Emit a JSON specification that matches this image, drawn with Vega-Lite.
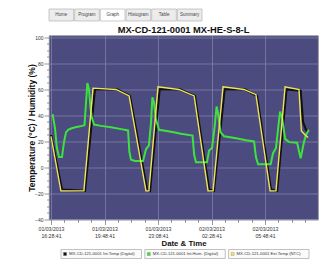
{
  "$schema": "https://vega.github.io/schema/vega-lite/v6.json",
  "background": "#ffffff",
  "padding": {"left": 26, "top": 8, "right": 15, "bottom": 3},
  "config": {
    "font": "Liberation Sans",
    "view": {"stroke": null},
    "concat": {"spacing": 0}
  },
  "datasets": {
    "tabs": [
      {"tab": "Home"}, {"tab": "Program"}, {"tab": "Graph"}, {"tab": "Histogram"}, {"tab": "Table"}, {"tab": "Summary"}
    ],
    "legend": [
      {"item": "MX-CD-121-0001 Int.Temp (Digital)"},
      {"item": "MX-CD-121-0001 Int.Hum. (Digital)"},
      {"item": "MX-CD-121-0001 Ext.Temp (NTC)"}
    ],
    "series": [
      {"series": "Int.Temp", "t": "2013-03-01T16:28:41", "v": 25},
      {"series": "Int.Temp", "t": "2013-03-01T17:09:41", "v": -17},
      {"series": "Int.Temp", "t": "2013-03-01T18:35:41", "v": -18},
      {"series": "Int.Temp", "t": "2013-03-01T19:12:41", "v": 60},
      {"series": "Int.Temp", "t": "2013-03-01T20:35:41", "v": 60},
      {"series": "Int.Temp", "t": "2013-03-01T21:23:41", "v": 55},
      {"series": "Int.Temp", "t": "2013-03-01T22:27:41", "v": -17},
      {"series": "Int.Temp", "t": "2013-03-01T22:38:41", "v": -18},
      {"series": "Int.Temp", "t": "2013-03-01T23:14:41", "v": 60},
      {"series": "Int.Temp", "t": "2013-03-02T00:30:41", "v": 60},
      {"series": "Int.Temp", "t": "2013-03-02T01:26:41", "v": 55},
      {"series": "Int.Temp", "t": "2013-03-02T02:19:41", "v": -17},
      {"series": "Int.Temp", "t": "2013-03-02T02:37:41", "v": -18},
      {"series": "Int.Temp", "t": "2013-03-02T03:17:41", "v": 60},
      {"series": "Int.Temp", "t": "2013-03-02T04:33:41", "v": 60},
      {"series": "Int.Temp", "t": "2013-03-02T05:18:41", "v": 55},
      {"series": "Int.Temp", "t": "2013-03-02T06:10:41", "v": -17},
      {"series": "Int.Temp", "t": "2013-03-02T06:33:41", "v": -18},
      {"series": "Int.Temp", "t": "2013-03-02T07:08:41", "v": 60},
      {"series": "Int.Temp", "t": "2013-03-02T08:01:41", "v": 59},
      {"series": "Int.Temp", "t": "2013-03-02T08:10:41", "v": 35},
      {"series": "Int.Temp", "t": "2013-03-02T08:21:41", "v": 29},
      {"series": "Int.Temp", "t": "2013-03-02T08:29:41", "v": 27},

      {"series": "Int.Hum.", "t": "2013-03-01T16:34:41", "v": 41},
      {"series": "Int.Hum.", "t": "2013-03-01T16:43:41", "v": 30},
      {"series": "Int.Hum.", "t": "2013-03-01T16:50:41", "v": 15},
      {"series": "Int.Hum.", "t": "2013-03-01T16:58:41", "v": 8},
      {"series": "Int.Hum.", "t": "2013-03-01T17:09:41", "v": 8},
      {"series": "Int.Hum.", "t": "2013-03-01T17:17:41", "v": 20},
      {"series": "Int.Hum.", "t": "2013-03-01T17:24:41", "v": 27},
      {"series": "Int.Hum.", "t": "2013-03-01T17:32:41", "v": 29},
      {"series": "Int.Hum.", "t": "2013-03-01T17:43:41", "v": 30},
      {"series": "Int.Hum.", "t": "2013-03-01T17:58:41", "v": 31},
      {"series": "Int.Hum.", "t": "2013-03-01T18:13:41", "v": 31.5},
      {"series": "Int.Hum.", "t": "2013-03-01T18:24:41", "v": 32},
      {"series": "Int.Hum.", "t": "2013-03-01T18:33:41", "v": 32.5},
      {"series": "Int.Hum.", "t": "2013-03-01T18:39:41", "v": 50},
      {"series": "Int.Hum.", "t": "2013-03-01T18:44:41", "v": 65},
      {"series": "Int.Hum.", "t": "2013-03-01T18:50:41", "v": 60},
      {"series": "Int.Hum.", "t": "2013-03-01T18:56:41", "v": 45},
      {"series": "Int.Hum.", "t": "2013-03-01T19:01:41", "v": 38},
      {"series": "Int.Hum.", "t": "2013-03-01T19:09:41", "v": 33},
      {"series": "Int.Hum.", "t": "2013-03-01T19:35:41", "v": 32},
      {"series": "Int.Hum.", "t": "2013-03-01T20:12:41", "v": 31},
      {"series": "Int.Hum.", "t": "2013-03-01T20:50:41", "v": 29.5},
      {"series": "Int.Hum.", "t": "2013-03-01T21:16:41", "v": 28.5},
      {"series": "Int.Hum.", "t": "2013-03-01T21:21:41", "v": 12},
      {"series": "Int.Hum.", "t": "2013-03-01T21:27:41", "v": 6},
      {"series": "Int.Hum.", "t": "2013-03-01T21:42:41", "v": 5},
      {"series": "Int.Hum.", "t": "2013-03-01T22:12:41", "v": 5},
      {"series": "Int.Hum.", "t": "2013-03-01T22:23:41", "v": 14},
      {"series": "Int.Hum.", "t": "2013-03-01T22:34:41", "v": 17},
      {"series": "Int.Hum.", "t": "2013-03-01T22:42:41", "v": 35},
      {"series": "Int.Hum.", "t": "2013-03-01T22:47:41", "v": 54},
      {"series": "Int.Hum.", "t": "2013-03-01T22:53:41", "v": 50},
      {"series": "Int.Hum.", "t": "2013-03-01T23:00:41", "v": 37},
      {"series": "Int.Hum.", "t": "2013-03-01T23:12:41", "v": 29},
      {"series": "Int.Hum.", "t": "2013-03-01T23:57:41", "v": 27.5},
      {"series": "Int.Hum.", "t": "2013-03-02T00:34:41", "v": 26},
      {"series": "Int.Hum.", "t": "2013-03-02T01:17:41", "v": 24.5},
      {"series": "Int.Hum.", "t": "2013-03-02T01:23:41", "v": 10},
      {"series": "Int.Hum.", "t": "2013-03-02T01:30:41", "v": 4},
      {"series": "Int.Hum.", "t": "2013-03-02T02:11:41", "v": 4},
      {"series": "Int.Hum.", "t": "2013-03-02T02:19:41", "v": 13},
      {"series": "Int.Hum.", "t": "2013-03-02T02:30:41", "v": 15},
      {"series": "Int.Hum.", "t": "2013-03-02T02:39:41", "v": 30},
      {"series": "Int.Hum.", "t": "2013-03-02T02:47:41", "v": 47},
      {"series": "Int.Hum.", "t": "2013-03-02T02:52:41", "v": 42},
      {"series": "Int.Hum.", "t": "2013-03-02T03:02:41", "v": 27},
      {"series": "Int.Hum.", "t": "2013-03-02T03:15:41", "v": 24},
      {"series": "Int.Hum.", "t": "2013-03-02T04:00:41", "v": 22.5},
      {"series": "Int.Hum.", "t": "2013-03-02T04:37:41", "v": 21},
      {"series": "Int.Hum.", "t": "2013-03-02T05:07:41", "v": 20},
      {"series": "Int.Hum.", "t": "2013-03-02T05:14:41", "v": 8},
      {"series": "Int.Hum.", "t": "2013-03-02T05:22:41", "v": 2.5},
      {"series": "Int.Hum.", "t": "2013-03-02T06:09:41", "v": 2.5},
      {"series": "Int.Hum.", "t": "2013-03-02T06:18:41", "v": 11},
      {"series": "Int.Hum.", "t": "2013-03-02T06:29:41", "v": 15},
      {"series": "Int.Hum.", "t": "2013-03-02T06:37:41", "v": 30},
      {"series": "Int.Hum.", "t": "2013-03-02T06:44:41", "v": 43},
      {"series": "Int.Hum.", "t": "2013-03-02T06:52:41", "v": 38},
      {"series": "Int.Hum.", "t": "2013-03-02T07:03:41", "v": 22},
      {"series": "Int.Hum.", "t": "2013-03-02T07:18:41", "v": 19.5},
      {"series": "Int.Hum.", "t": "2013-03-02T07:48:41", "v": 19},
      {"series": "Int.Hum.", "t": "2013-03-02T08:01:41", "v": 7},
      {"series": "Int.Hum.", "t": "2013-03-02T08:14:41", "v": 20},
      {"series": "Int.Hum.", "t": "2013-03-02T08:21:41", "v": 25},
      {"series": "Int.Hum.", "t": "2013-03-02T08:32:41", "v": 29},

      {"series": "Ext.Temp", "t": "2013-03-01T16:28:41", "v": 24},
      {"series": "Ext.Temp", "t": "2013-03-01T17:05:41", "v": -18},
      {"series": "Ext.Temp", "t": "2013-03-01T18:31:41", "v": -18},
      {"series": "Ext.Temp", "t": "2013-03-01T19:05:41", "v": 61},
      {"series": "Ext.Temp", "t": "2013-03-01T20:31:41", "v": 60},
      {"series": "Ext.Temp", "t": "2013-03-01T21:20:41", "v": 55},
      {"series": "Ext.Temp", "t": "2013-03-01T22:23:41", "v": -18},
      {"series": "Ext.Temp", "t": "2013-03-01T22:34:41", "v": -18},
      {"series": "Ext.Temp", "t": "2013-03-01T23:08:41", "v": 62},
      {"series": "Ext.Temp", "t": "2013-03-02T00:26:41", "v": 60},
      {"series": "Ext.Temp", "t": "2013-03-02T01:23:41", "v": 55},
      {"series": "Ext.Temp", "t": "2013-03-02T02:15:41", "v": -18},
      {"series": "Ext.Temp", "t": "2013-03-02T02:34:41", "v": -18},
      {"series": "Ext.Temp", "t": "2013-03-02T03:11:41", "v": 62},
      {"series": "Ext.Temp", "t": "2013-03-02T04:29:41", "v": 60},
      {"series": "Ext.Temp", "t": "2013-03-02T05:14:41", "v": 56},
      {"series": "Ext.Temp", "t": "2013-03-02T06:07:41", "v": -18},
      {"series": "Ext.Temp", "t": "2013-03-02T06:29:41", "v": -18},
      {"series": "Ext.Temp", "t": "2013-03-02T07:03:41", "v": 62},
      {"series": "Ext.Temp", "t": "2013-03-02T07:55:41", "v": 60},
      {"series": "Ext.Temp", "t": "2013-03-02T08:04:41", "v": 28},
      {"series": "Ext.Temp", "t": "2013-03-02T08:18:41", "v": 25},
      {"series": "Ext.Temp", "t": "2013-03-02T08:29:41", "v": 23}
    ]
  },
  "resolve": {"scale": {"x": "independent", "y": "independent", "color": "independent"}},
  "spacing": 2.5,
  "vconcat": [
    {
      "width": 153,
      "height": 12,
      "data": {"name": "tabs"},
      "encoding": {
        "x": {"field": "tab", "type": "nominal", "sort": null, "scale": {"paddingInner": 0.04, "paddingOuter": 0}, "axis": null}
      },
      "layer": [
        {
          "mark": {"type": "rect", "stroke": "#a8a8a8", "strokeWidth": 0.6},
          "encoding": {
            "fill": {"condition": {"test": "datum.tab == 'Graph'", "value": "#ffffff"}, "value": "#ececec"}
          }
        },
        {
          "mark": {"type": "text", "fontSize": 4.5, "color": "#444"},
          "encoding": {"text": {"field": "tab"}}
        }
      ]
    },
    {
      "spacing": 0,
      "resolve": {"scale": {"x": "independent", "y": "independent", "color": "independent"}},
      "vconcat": [
        {
          "width": 269,
          "height": 184,
          "view": {"fill": "#4b4b80", "stroke": "#888888", "strokeWidth": 0.8},
          "title": {"text": "MX-CD-121-0001 MX-HE-S-8-L", "fontSize": 9.3, "fontWeight": "bold", "color": "#111111", "frame": "group", "anchor": "middle", "offset": 0.5},
          "data": {"name": "series"},
          "encoding": {
            "x": {
              "field": "t", "type": "temporal", "title": "Date & Time",
              "scale": {"domain": [
                {"year": 2013, "month": 3, "date": 1, "hours": 16, "minutes": 21, "seconds": 11},
                {"year": 2013, "month": 3, "date": 2, "hours": 9, "minutes": 6, "seconds": 41}
              ]},
              "axis": {
                "values": [
                  {"year": 2013, "month": 3, "date": 1, "hours": 16, "minutes": 28, "seconds": 41},
                  {"year": 2013, "month": 3, "date": 1, "hours": 17, "minutes": 18, "seconds": 41},
                  {"year": 2013, "month": 3, "date": 1, "hours": 18, "minutes": 8, "seconds": 41},
                  {"year": 2013, "month": 3, "date": 1, "hours": 18, "minutes": 58, "seconds": 41},
                  {"year": 2013, "month": 3, "date": 1, "hours": 19, "minutes": 48, "seconds": 41},
                  {"year": 2013, "month": 3, "date": 1, "hours": 20, "minutes": 38, "seconds": 41},
                  {"year": 2013, "month": 3, "date": 1, "hours": 21, "minutes": 28, "seconds": 41},
                  {"year": 2013, "month": 3, "date": 1, "hours": 22, "minutes": 18, "seconds": 41},
                  {"year": 2013, "month": 3, "date": 1, "hours": 23, "minutes": 8, "seconds": 41},
                  {"year": 2013, "month": 3, "date": 1, "hours": 23, "minutes": 58, "seconds": 41},
                  {"year": 2013, "month": 3, "date": 2, "hours": 0, "minutes": 48, "seconds": 41},
                  {"year": 2013, "month": 3, "date": 2, "hours": 1, "minutes": 38, "seconds": 41},
                  {"year": 2013, "month": 3, "date": 2, "hours": 2, "minutes": 28, "seconds": 41},
                  {"year": 2013, "month": 3, "date": 2, "hours": 3, "minutes": 18, "seconds": 41},
                  {"year": 2013, "month": 3, "date": 2, "hours": 4, "minutes": 8, "seconds": 41},
                  {"year": 2013, "month": 3, "date": 2, "hours": 4, "minutes": 58, "seconds": 41},
                  {"year": 2013, "month": 3, "date": 2, "hours": 5, "minutes": 48, "seconds": 41},
                  {"year": 2013, "month": 3, "date": 2, "hours": 6, "minutes": 38, "seconds": 41},
                  {"year": 2013, "month": 3, "date": 2, "hours": 7, "minutes": 28, "seconds": 41},
                  {"year": 2013, "month": 3, "date": 2, "hours": 8, "minutes": 18, "seconds": 41}
                ],
                "labelExpr": "indexof(['16:28','19:48','23:08','02:28','05:48'], timeFormat(datum.value, '%H:%M')) >= 0 ? [timeFormat(datum.value, '%d/%m/%Y'), timeFormat(datum.value, '%H:%M:%S')] : ''",
                "labelFontSize": 5.2,
                "labelLineHeight": 7,
                "labelColor": "#333333",
                "labelPadding": 1.5,
                "labelOverlap": false,
                "labelFlush": false,
                "labelBound": false,
                "tickSize": {"condition": {"test": "indexof(['16:28','19:48','23:08','02:28','05:48'], timeFormat(datum.value, '%H:%M')) >= 0", "value": 5}, "value": 3},
                "tickColor": "#555555",
                "tickWidth": 0.6,
                "domain": false,
                "grid": true,
                "gridColor": "#8c8cb4",
                "gridWidth": 0.7,
                "gridOpacity": {"condition": {"test": "indexof(['16:28','19:48','23:08','02:28','05:48'], timeFormat(datum.value, '%H:%M')) >= 0", "value": 0.9}, "value": 0},
                "titleFontSize": 7.8,
                "titleFontWeight": "bold",
                "titleColor": "#111111",
                "titlePadding": 1.5
              }
            },
            "y": {
              "field": "v", "type": "quantitative", "title": "Temperature (°C) / Humidity (%)",
              "scale": {"domain": [-40, 101.5], "nice": false, "zero": false},
              "axis": {
                "values": [-40, -35, -30, -25, -20, -15, -10, -5, 0, 5, 10, 15, 20, 25, 30, 35, 40, 45, 50, 55, 60, 65, 70, 75, 80, 85, 90, 95, 100],
                "labelExpr": "datum.value % 20 == 0 ? datum.label : ''",
                "labelFontSize": 5,
                "labelColor": "#333333",
                "labelPadding": 1,
                "labelOverlap": false,
                "labelBound": false,
                "labelFlush": false,
                "tickSize": {"condition": {"test": "datum.value % 20 == 0", "value": 5}, "value": 2.5},
                "tickColor": "#555555",
                "tickWidth": 0.6,
                "domain": false,
                "grid": true,
                "gridColor": "#8c8cb4",
                "gridWidth": 0.7,
                "gridOpacity": {"condition": {"test": "datum.value % 20 == 0", "value": 0.9}, "value": 0},
                "minExtent": 13,
                "maxExtent": 13,
                "titleFontSize": 8.5,
                "titleFontWeight": "bold",
                "titleColor": "#111111",
                "titlePadding": 0
              }
            }
          },
          "layer": [
            {
              "transform": [{"filter": "datum.series == 'Int.Temp'"}],
              "mark": {"type": "line", "color": "#111111", "strokeWidth": 2.2}
            },
            {
              "transform": [{"filter": "datum.series == 'Int.Hum.'"}],
              "mark": {"type": "line", "color": "#3ee23e", "strokeWidth": 2}
            },
            {
              "transform": [{"filter": "datum.series == 'Ext.Temp'"}],
              "mark": {"type": "line", "color": "#f0e45a", "strokeWidth": 1.4}
            }
          ]
        },
        {
          "width": 260,
          "height": 9,
          "data": {"name": "legend"},
          "layer": [
            {
              "mark": {"type": "rect", "fill": "#fbfbfb", "stroke": "#999999", "strokeWidth": 0.6},
              "encoding": {
                "x": {"field": "item", "type": "nominal", "sort": null, "scale": {"paddingInner": 0.04, "paddingOuter": 0.0717, "align": 1}, "axis": null}
              }
            },
            {
              "mark": {"type": "square", "size": 10, "filled": true, "opacity": 1, "xOffset": 4, "stroke": "#777777", "strokeWidth": 0.3},
              "encoding": {
                "x": {"field": "item", "type": "nominal", "sort": null, "bandPosition": 0, "axis": null},
                "color": {"field": "item", "type": "nominal", "sort": null, "legend": null,
                  "scale": {"domain": ["MX-CD-121-0001 Int.Temp (Digital)", "MX-CD-121-0001 Int.Hum. (Digital)", "MX-CD-121-0001 Ext.Temp (NTC)"], "range": ["#111111", "#3ee23e", "#f0e45a"]}}
              }
            },
            {
              "mark": {"type": "text", "align": "left", "xOffset": 8, "fontSize": 4.2, "color": "#333333"},
              "encoding": {
                "x": {"field": "item", "type": "nominal", "sort": null, "bandPosition": 0, "axis": null},
                "text": {"field": "item"}
              }
            }
          ]
        }
      ]
    }
  ]
}
